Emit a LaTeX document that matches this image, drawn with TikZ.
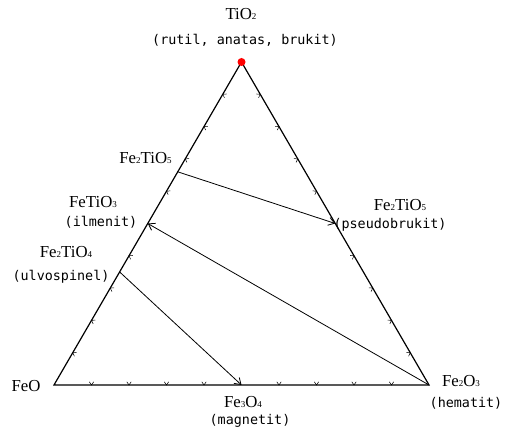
\documentclass[tikz,border=0pt]{standalone}
\usepackage{fontspec}
\setmainfont{Liberation Serif}
\newfontfamily\monof{DejaVu Sans Mono}
\usetikzlibrary{arrows.meta,calc}
\newcommand\subn[1]{\raisebox{-0.3pt}{\fontsize{9}{9}\selectfont #1}}
\begin{document}
\begin{tikzpicture}[x=1pt,y=1pt,
  formula/.style={inner sep=0pt,font=\fontsize{16.8}{18}\selectfont},
  mono/.style={inner sep=0pt,font=\monof\fontsize{13.4}{15}\selectfont},
  side/.style={line width=1.2pt},
  tie/.style={line width=0.8pt,-{Straight Barb[length=6pt,width=8pt]}},
  tickmark/.style={line width=0.5pt}]
\useasboundingbox (0,0) rectangle (508,427);
\coordinate (A) at (54,42);
\coordinate (B) at (429,42);
\coordinate (C) at (241.5,365);
\draw[side] (A) -- (B) -- (C) -- cycle;
% ticks
\foreach \k in {1,2,3,4,6,7,8,9}{
  \draw[tickmark,shift={($(A)!\k/10!(B)$)},rotate=0] (-2.2,3.2) -- (0,0) -- (2.2,3.2);
  \draw[tickmark,shift={($(B)!\k/10!(C)$)},rotate=120] (-2.2,3.2) -- (0,0) -- (2.2,3.2);
  \draw[tickmark,shift={($(C)!\k/10!(A)$)},rotate=240] (-2.2,3.2) -- (0,0) -- (2.2,3.2);
}
\coordinate (ps) at ($(B)!0.5!(C)$);
\coordinate (fe2tio5L) at ($(A)!0.66!(C)$);
\coordinate (ilm) at ($(A)!0.5!(C)$);
\coordinate (ulv) at ($(A)!0.35!(C)$);
\coordinate (mag) at ($(A)!0.5!(B)$);
\draw[tie] (fe2tio5L) -- (ps);
\draw[tie] (B) -- (ilm);
\draw[tie] (ulv) -- (mag);
\fill[red] (C) circle (4);
% labels
\node[formula] (tio2) at (241,413) {TiO\subn{2}};
\node[mono] (tio2n) at (245,387) {(rutil, anatas, brukit)};
\node[formula] (fe2tio5a) at (145.5,269) {Fe\subn{2}TiO\subn{5}};
\node[formula] (fetio3) at (93,225) {FeTiO\subn{3}};
\node[mono] (ilmn) at (101,205) {(ilmenit)};
\node[formula] (fe2tio4) at (66,175) {Fe\subn{2}TiO\subn{4}};
\node[mono] (ulvn) at (61,150) {(ulvospinel)};
\node[formula] (fe2tio5b) at (400,222) {Fe\subn{2}TiO\subn{5}};
\node[mono] (psn) at (390,202) {(pseudobrukit)};
\node[formula] (feo) at (26,41) {FeO};
\node[formula] (fe3o4) at (243,25) {Fe\subn{3}O\subn{4}};
\node[mono] (magn) at (250,6) {(magnetit)};
\node[formula] (fe2o3) at (461,46) {Fe\subn{2}O\subn{3}};
\node[mono] (hemn) at (466,24) {(hematit)};
\end{tikzpicture}
\end{document}
